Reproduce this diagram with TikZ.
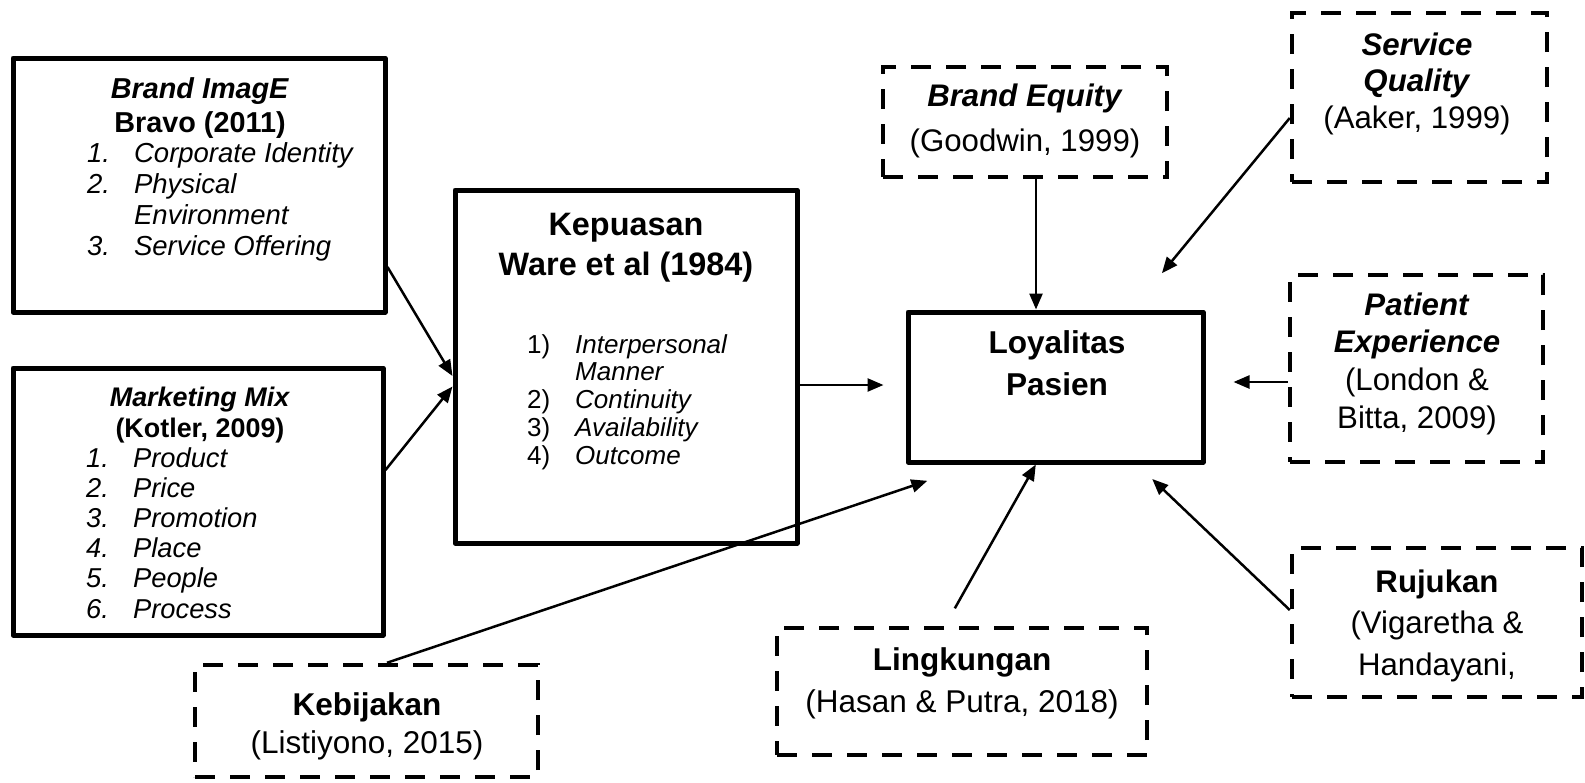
\documentclass[tikz,border=0pt]{standalone}
\usepackage{fontspec}
\setmainfont{Liberation Sans}
\usetikzlibrary{arrows.meta,calc}
\newcommand\setfs[2]{\fontsize{#1pt}{#2pt}\selectfont}
\tikzset{
 solidbox/.style={draw, line width=5pt, inner sep=0pt, line join=round},
 dashbox/.style={draw, line width=4.5pt, dash pattern=on 20pt off 15pt, inner sep=0pt},
 txt/.style={inner sep=0pt, anchor=base},
 lst/.style={inner sep=0pt, anchor=base west},
 arr/.style={line width=2.5pt, -{Triangle[length=16pt,width=13pt]}},
}
\begin{document}
\begin{tikzpicture}[x=1pt,y=-1pt]
\useasboundingbox[fill=white] (0,0) rectangle (1585,782);

% solid boxes
\node[solidbox, minimum width=372pt, minimum height=254pt] (bi) at (199,185) {};
\node[solidbox, minimum width=370pt, minimum height=267pt] (mm) at (198,501.5) {};
\node[solidbox, minimum width=342pt, minimum height=353pt] (kep) at (626,366.5) {};
\node[solidbox, minimum width=295pt, minimum height=150pt] (loy) at (1055.5,387) {};

% dashed boxes
\node[dashbox, minimum width=284pt, minimum height=110pt] (be) at (1025,122) {};
\node[dashbox, minimum width=255pt, minimum height=169pt] (sq) at (1419.5,97.5) {};
\node[dashbox, minimum width=253pt, minimum height=187pt] (pe) at (1416.5,368.5) {};
\node[dashbox, minimum width=290pt, minimum height=149pt] (ruj) at (1437,622.5) {};
\node[dashbox, minimum width=370pt, minimum height=127pt] (lin) at (962,691.5) {};
\node[dashbox, minimum width=343pt, minimum height=112pt] (keb) at (366.5,721) {};

% texts: Brand Image
\node[txt, font=\setfs{28.8}{34}] (bit) at (200,98)
 {\begin{tabular}[t]{@{}c@{}}\textbf{\textit{Brand ImagE}}\\\textbf{Bravo (2011)}\end{tabular}};
\node[lst, font=\setfs{27.5}{31}\itshape] (bil) at (87,162)
 {\begin{tabular}[t]{@{}l@{\hspace{24pt}}l@{}}1.&Corporate Identity\\2.&Physical\\&Environment\\3.&Service Offering\end{tabular}};

% Marketing Mix
\node[txt, font=\setfs{26.9}{31}] (mmt) at (200,406)
 {\begin{tabular}[t]{@{}c@{}}\textbf{\textit{Marketing Mix}}\\\textbf{(Kotler, 2009)}\end{tabular}};
\node[lst, font=\setfs{27.3}{30.2}\itshape] (mml) at (86,467)
 {\begin{tabular}[t]{@{}l@{\hspace{24.2pt}}l@{}}1.&Product\\2.&Price\\3.&Promotion\\4.&Place\\5.&People\\6.&Process\end{tabular}};

% Kepuasan
\node[txt, font=\setfs{32.4}{40}\bfseries] (kept) at (626,235)
 {\begin{tabular}[t]{@{}c@{}}Kepuasan\\Ware et al (1984)\end{tabular}};
\node[lst, font=\setfs{26}{27.8}] (kepl) at (527,353)
 {\begin{tabular}[t]{@{}l@{\hspace{24.9pt}}l@{}}1)&\textit{Interpersonal}\\&\textit{Manner}\\2)&\textit{Continuity}\\3)&\textit{Availability}\\4)&\textit{Outcome}\end{tabular}};

% Loyalitas
\node[txt, font=\setfs{31.6}{42}\bfseries] (loyt) at (1057,353)
 {\begin{tabular}[t]{@{}c@{}}Loyalitas\\Pasien\end{tabular}};

% dashed box texts
\node[txt, font=\setfs{31.2}{45}] (bet) at (1025,106)
 {\begin{tabular}[t]{@{}c@{}}\textbf{\textit{Brand Equity}}\\(Goodwin, 1999)\end{tabular}};
\node[txt, font=\setfs{31.2}{36.5}] (sqt) at (1417,55)
 {\begin{tabular}[t]{@{}c@{}}\textbf{\textit{Service}}\\\textbf{\textit{Quality}}\\(Aaker, 1999)\end{tabular}};
\node[txt, font=\setfs{31.2}{37.7}] (pet) at (1417,315)
 {\begin{tabular}[t]{@{}c@{}}\textbf{\textit{Patient}}\\\textbf{\textit{Experience}}\\(London \&\\Bitta, 2009)\end{tabular}};
\node[txt, font=\setfs{31.2}{41.5}] (rujt) at (1437,592)
 {\begin{tabular}[t]{@{}c@{}}\textbf{Rujukan}\\(Vigaretha \&\\Handayani,\end{tabular}};
\node[txt, font=\setfs{31.5}{42}] (lint) at (962,670)
 {\begin{tabular}[t]{@{}c@{}}\textbf{Lingkungan}\\(Hasan \& Putra, 2018)\end{tabular}};
\node[txt, font=\setfs{31.5}{38}] (kebt) at (367,715)
 {\begin{tabular}[t]{@{}c@{}}\textbf{Kebijakan}\\(Listiyono, 2015)\end{tabular}};

% connectors
\draw[arr] ([yshift=-82pt]bi.east) -- ([yshift=-9.5pt]kep.west);
\draw[arr] ([yshift=31.5pt]mm.east) -- ([yshift=-20pt]kep.west);
\draw[arr, shorten >=22pt] ([yshift=-18.5pt]kep.east) -- ([yshift=-18.5pt]kep.east -| loy.west);
\draw[arr] ([xshift=11pt]be.south) -- ([xshift=11pt]be.south |- loy.north);
\draw[arr, shorten >=47pt] ([yshift=-20.5pt]sq.west) -- ([xshift=76.5pt]loy.north);
\draw[arr, shorten >=28pt] ([yshift=-13.5pt]pe.west) -- ([yshift=-13.5pt]pe.west -| loy.east);
\draw[arr, shorten >=21pt] ([yshift=12.5pt]ruj.west) -- ([xshift=81.5pt]loy.south);
\draw[arr, shorten <=20pt] ([xshift=-17pt]lin.north) -- ([xshift=-19.7pt]loy.south);
\draw[arr, shorten >=51pt] ([xshift=20.5pt]keb.north) -- ([xshift=-79.8pt]loy.south);
\end{tikzpicture}
\end{document}
